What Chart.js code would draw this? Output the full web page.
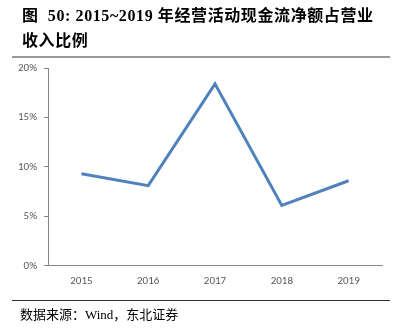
<!DOCTYPE html>
<html>
<head>
<meta charset="utf-8">
<script src="https://cdn.jsdelivr.net/npm/chart.js@4"></script>
<style>
  html, body { margin: 0; padding: 0; background: #fff; }
  #wrap { position: relative; width: 401px; height: 332px; overflow: hidden; }
  #c { position: absolute; left: 0; top: 0; }
  .t { position: absolute; white-space: nowrap; color: #000; }
  .title { font-family: "Liberation Serif", "Noto Sans CJK SC", serif; font-weight: bold; font-size: 16px; left: 22px; }
  .rule { position: absolute; left: 12px; width: 378px; }
  .src { font-family: "Liberation Serif", "Noto Sans CJK SC", serif; font-size: 13px; left: 20px; top: 304px; }
</style>
</head>
<body>
<div id="wrap">
  <canvas id="c" width="401" height="332"></canvas>
  <div class="t title" style="top:2px;letter-spacing:0.6px;">图&nbsp;&nbsp;50:&nbsp;2015~2019 年经营活动现金流净额占营业</div>
  <div class="t title" style="top:27px;letter-spacing:0.6px;">收入比例</div>
  <div class="rule" style="top:56px;height:2px;background:#9a9a9a;"></div>
  <div class="rule" style="top:300px;height:1px;background:#333;"></div>
  <div class="t src">数据来源：Wind，东北证券</div>
</div>
<script>
const categories = ["2015", "2016", "2017", "2018", "2019"];
const ratioValues = [9.3, 8.1, 18.4, 6.1, 8.6];
const yTicks = [0, 5, 10, 15, 20];

const tickFont = { family: 'Carlito, Calibri, "Liberation Sans", sans-serif', size: 11 };

new Chart(document.getElementById('c'), {
  type: 'line',
  data: {
    labels: categories,
    datasets: [{
      data: ratioValues,
      borderColor: '#4f81bd',
      borderWidth: 3,
      pointRadius: 0,
      tension: 0,
      fill: false
    }]
  },
  options: {
    responsive: false,
    animation: false,
    devicePixelRatio: 1,
    layout: { padding: { left: 0, right: 19, top: 68, bottom: 43 } },
    plugins: { legend: { display: false }, tooltip: { enabled: false } },
    scales: {
      x: {
        offset: true,
        grid: { display: false },
        border: { display: true, color: '#868686', width: 1 },
        ticks: { color: '#595959', font: tickFont, padding: 1, maxRotation: 0, autoSkip: false }
      },
      y: {
        min: 0, max: 20,
        afterBuildTicks: s => { s.ticks = yTicks.map(v => ({ value: v })); },
        grid: { drawOnChartArea: false, drawTicks: true, tickLength: 4, color: '#868686' },
        border: { display: true, color: '#868686', width: 1 },
        ticks: { color: '#595959', font: tickFont, padding: 7, callback: v => v + '%' },
        afterFit: s => { s.width = 48; }
      }
    }
  }
});
</script>
</body>
</html>
